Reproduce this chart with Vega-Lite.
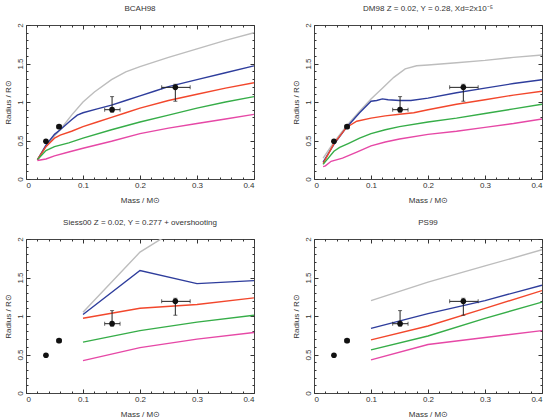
{
  "$schema": "https://vega.github.io/schema/vega-lite/v6.json",
  "padding": {"left": 3, "top": 4, "right": 0, "bottom": 0},
  "bounds": "flush",
  "columns": 2,
  "spacing": 60,
  "config": {
    "font": "Liberation Sans",
    "view": {"stroke": "#444", "strokeWidth": 1},
    "axis": {"domain": false, "grid": false, "labelFontSize": 8, "titleFontSize": 8, "titleFontWeight": "normal", "labelColor": "#333", "titleColor": "#333", "tickColor": "#333", "tickWidth": 1},
    "title": {"fontSize": 8, "fontWeight": "normal", "color": "#333", "offset": 10},
    "line": {"strokeWidth": 1.4}
  },
  "datasets": {
    "models": [
      {"p": "BCAH98", "s": "s1", "m": 0.02, "r": 0.25}, {"p": "BCAH98", "s": "s1", "m": 0.035, "r": 0.42}, {"p": "BCAH98", "s": "s1", "m": 0.05, "r": 0.56}, {"p": "BCAH98", "s": "s1", "m": 0.06, "r": 0.64}, {"p": "BCAH98", "s": "s1", "m": 0.08, "r": 0.83}, {"p": "BCAH98", "s": "s1", "m": 0.1, "r": 1.0}, {"p": "BCAH98", "s": "s1", "m": 0.12, "r": 1.13}, {"p": "BCAH98", "s": "s1", "m": 0.15, "r": 1.29}, {"p": "BCAH98", "s": "s1", "m": 0.175, "r": 1.39}, {"p": "BCAH98", "s": "s1", "m": 0.2, "r": 1.46}, {"p": "BCAH98", "s": "s1", "m": 0.25, "r": 1.58}, {"p": "BCAH98", "s": "s1", "m": 0.3, "r": 1.69}, {"p": "BCAH98", "s": "s1", "m": 0.35, "r": 1.8}, {"p": "BCAH98", "s": "s1", "m": 0.4, "r": 1.9},
      {"p": "BCAH98", "s": "s2", "m": 0.02, "r": 0.25}, {"p": "BCAH98", "s": "s2", "m": 0.035, "r": 0.44}, {"p": "BCAH98", "s": "s2", "m": 0.05, "r": 0.58}, {"p": "BCAH98", "s": "s2", "m": 0.06, "r": 0.64}, {"p": "BCAH98", "s": "s2", "m": 0.08, "r": 0.77}, {"p": "BCAH98", "s": "s2", "m": 0.09, "r": 0.83}, {"p": "BCAH98", "s": "s2", "m": 0.1, "r": 0.86}, {"p": "BCAH98", "s": "s2", "m": 0.125, "r": 0.91}, {"p": "BCAH98", "s": "s2", "m": 0.15, "r": 0.96}, {"p": "BCAH98", "s": "s2", "m": 0.175, "r": 1.02}, {"p": "BCAH98", "s": "s2", "m": 0.2, "r": 1.08}, {"p": "BCAH98", "s": "s2", "m": 0.225, "r": 1.14}, {"p": "BCAH98", "s": "s2", "m": 0.25, "r": 1.2}, {"p": "BCAH98", "s": "s2", "m": 0.3, "r": 1.29}, {"p": "BCAH98", "s": "s2", "m": 0.35, "r": 1.38}, {"p": "BCAH98", "s": "s2", "m": 0.4, "r": 1.47},
      {"p": "BCAH98", "s": "s3", "m": 0.02, "r": 0.25}, {"p": "BCAH98", "s": "s3", "m": 0.035, "r": 0.42}, {"p": "BCAH98", "s": "s3", "m": 0.05, "r": 0.53}, {"p": "BCAH98", "s": "s3", "m": 0.06, "r": 0.57}, {"p": "BCAH98", "s": "s3", "m": 0.08, "r": 0.62}, {"p": "BCAH98", "s": "s3", "m": 0.1, "r": 0.68}, {"p": "BCAH98", "s": "s3", "m": 0.125, "r": 0.74}, {"p": "BCAH98", "s": "s3", "m": 0.15, "r": 0.8}, {"p": "BCAH98", "s": "s3", "m": 0.175, "r": 0.86}, {"p": "BCAH98", "s": "s3", "m": 0.2, "r": 0.92}, {"p": "BCAH98", "s": "s3", "m": 0.25, "r": 1.02}, {"p": "BCAH98", "s": "s3", "m": 0.3, "r": 1.1}, {"p": "BCAH98", "s": "s3", "m": 0.35, "r": 1.18}, {"p": "BCAH98", "s": "s3", "m": 0.4, "r": 1.25},
      {"p": "BCAH98", "s": "s4", "m": 0.02, "r": 0.25}, {"p": "BCAH98", "s": "s4", "m": 0.035, "r": 0.37}, {"p": "BCAH98", "s": "s4", "m": 0.05, "r": 0.42}, {"p": "BCAH98", "s": "s4", "m": 0.075, "r": 0.47}, {"p": "BCAH98", "s": "s4", "m": 0.1, "r": 0.53}, {"p": "BCAH98", "s": "s4", "m": 0.15, "r": 0.64}, {"p": "BCAH98", "s": "s4", "m": 0.2, "r": 0.74}, {"p": "BCAH98", "s": "s4", "m": 0.25, "r": 0.83}, {"p": "BCAH98", "s": "s4", "m": 0.3, "r": 0.92}, {"p": "BCAH98", "s": "s4", "m": 0.35, "r": 1.0}, {"p": "BCAH98", "s": "s4", "m": 0.4, "r": 1.07},
      {"p": "BCAH98", "s": "s5", "m": 0.02, "r": 0.24}, {"p": "BCAH98", "s": "s5", "m": 0.035, "r": 0.26}, {"p": "BCAH98", "s": "s5", "m": 0.05, "r": 0.3}, {"p": "BCAH98", "s": "s5", "m": 0.075, "r": 0.35}, {"p": "BCAH98", "s": "s5", "m": 0.1, "r": 0.4}, {"p": "BCAH98", "s": "s5", "m": 0.15, "r": 0.49}, {"p": "BCAH98", "s": "s5", "m": 0.2, "r": 0.59}, {"p": "BCAH98", "s": "s5", "m": 0.25, "r": 0.66}, {"p": "BCAH98", "s": "s5", "m": 0.3, "r": 0.72}, {"p": "BCAH98", "s": "s5", "m": 0.35, "r": 0.78}, {"p": "BCAH98", "s": "s5", "m": 0.4, "r": 0.84},

      {"p": "DM98", "s": "s1", "m": 0.016, "r": 0.27}, {"p": "DM98", "s": "s1", "m": 0.035, "r": 0.48}, {"p": "DM98", "s": "s1", "m": 0.057, "r": 0.69}, {"p": "DM98", "s": "s1", "m": 0.08, "r": 0.88}, {"p": "DM98", "s": "s1", "m": 0.1, "r": 1.04}, {"p": "DM98", "s": "s1", "m": 0.12, "r": 1.18}, {"p": "DM98", "s": "s1", "m": 0.14, "r": 1.32}, {"p": "DM98", "s": "s1", "m": 0.16, "r": 1.43}, {"p": "DM98", "s": "s1", "m": 0.18, "r": 1.47}, {"p": "DM98", "s": "s1", "m": 0.2, "r": 1.48}, {"p": "DM98", "s": "s1", "m": 0.25, "r": 1.51}, {"p": "DM98", "s": "s1", "m": 0.3, "r": 1.54}, {"p": "DM98", "s": "s1", "m": 0.35, "r": 1.58}, {"p": "DM98", "s": "s1", "m": 0.4, "r": 1.61},
      {"p": "DM98", "s": "s2", "m": 0.016, "r": 0.22}, {"p": "DM98", "s": "s2", "m": 0.035, "r": 0.45}, {"p": "DM98", "s": "s2", "m": 0.057, "r": 0.67}, {"p": "DM98", "s": "s2", "m": 0.08, "r": 0.86}, {"p": "DM98", "s": "s2", "m": 0.1, "r": 1.01}, {"p": "DM98", "s": "s2", "m": 0.11, "r": 1.02}, {"p": "DM98", "s": "s2", "m": 0.12, "r": 1.04}, {"p": "DM98", "s": "s2", "m": 0.13, "r": 1.03}, {"p": "DM98", "s": "s2", "m": 0.15, "r": 1.02}, {"p": "DM98", "s": "s2", "m": 0.17, "r": 1.02}, {"p": "DM98", "s": "s2", "m": 0.2, "r": 1.05}, {"p": "DM98", "s": "s2", "m": 0.25, "r": 1.12}, {"p": "DM98", "s": "s2", "m": 0.3, "r": 1.18}, {"p": "DM98", "s": "s2", "m": 0.35, "r": 1.24}, {"p": "DM98", "s": "s2", "m": 0.4, "r": 1.29},
      {"p": "DM98", "s": "s3", "m": 0.016, "r": 0.2}, {"p": "DM98", "s": "s3", "m": 0.035, "r": 0.46}, {"p": "DM98", "s": "s3", "m": 0.057, "r": 0.67}, {"p": "DM98", "s": "s3", "m": 0.075, "r": 0.75}, {"p": "DM98", "s": "s3", "m": 0.1, "r": 0.79}, {"p": "DM98", "s": "s3", "m": 0.125, "r": 0.82}, {"p": "DM98", "s": "s3", "m": 0.15, "r": 0.84}, {"p": "DM98", "s": "s3", "m": 0.175, "r": 0.86}, {"p": "DM98", "s": "s3", "m": 0.2, "r": 0.9}, {"p": "DM98", "s": "s3", "m": 0.25, "r": 0.97}, {"p": "DM98", "s": "s3", "m": 0.3, "r": 1.03}, {"p": "DM98", "s": "s3", "m": 0.35, "r": 1.09}, {"p": "DM98", "s": "s3", "m": 0.4, "r": 1.14},
      {"p": "DM98", "s": "s4", "m": 0.016, "r": 0.19}, {"p": "DM98", "s": "s4", "m": 0.035, "r": 0.36}, {"p": "DM98", "s": "s4", "m": 0.045, "r": 0.41}, {"p": "DM98", "s": "s4", "m": 0.06, "r": 0.46}, {"p": "DM98", "s": "s4", "m": 0.08, "r": 0.53}, {"p": "DM98", "s": "s4", "m": 0.1, "r": 0.59}, {"p": "DM98", "s": "s4", "m": 0.125, "r": 0.64}, {"p": "DM98", "s": "s4", "m": 0.15, "r": 0.68}, {"p": "DM98", "s": "s4", "m": 0.2, "r": 0.74}, {"p": "DM98", "s": "s4", "m": 0.25, "r": 0.79}, {"p": "DM98", "s": "s4", "m": 0.3, "r": 0.85}, {"p": "DM98", "s": "s4", "m": 0.35, "r": 0.91}, {"p": "DM98", "s": "s4", "m": 0.4, "r": 0.97},
      {"p": "DM98", "s": "s5", "m": 0.016, "r": 0.16}, {"p": "DM98", "s": "s5", "m": 0.02, "r": 0.17}, {"p": "DM98", "s": "s5", "m": 0.03, "r": 0.23}, {"p": "DM98", "s": "s5", "m": 0.05, "r": 0.27}, {"p": "DM98", "s": "s5", "m": 0.075, "r": 0.35}, {"p": "DM98", "s": "s5", "m": 0.1, "r": 0.43}, {"p": "DM98", "s": "s5", "m": 0.125, "r": 0.48}, {"p": "DM98", "s": "s5", "m": 0.15, "r": 0.52}, {"p": "DM98", "s": "s5", "m": 0.2, "r": 0.58}, {"p": "DM98", "s": "s5", "m": 0.25, "r": 0.62}, {"p": "DM98", "s": "s5", "m": 0.3, "r": 0.67}, {"p": "DM98", "s": "s5", "m": 0.35, "r": 0.72}, {"p": "DM98", "s": "s5", "m": 0.4, "r": 0.78},

      {"p": "Siess00", "s": "s1", "m": 0.1, "r": 1.05}, {"p": "Siess00", "s": "s1", "m": 0.2, "r": 1.83}, {"p": "Siess00", "s": "s1", "m": 0.3, "r": 2.29}, {"p": "Siess00", "s": "s1", "m": 0.4, "r": 2.6},
      {"p": "Siess00", "s": "s2", "m": 0.1, "r": 1.02}, {"p": "Siess00", "s": "s2", "m": 0.2, "r": 1.59}, {"p": "Siess00", "s": "s2", "m": 0.3, "r": 1.42}, {"p": "Siess00", "s": "s2", "m": 0.4, "r": 1.46},
      {"p": "Siess00", "s": "s3", "m": 0.1, "r": 0.97}, {"p": "Siess00", "s": "s3", "m": 0.2, "r": 1.1}, {"p": "Siess00", "s": "s3", "m": 0.3, "r": 1.15}, {"p": "Siess00", "s": "s3", "m": 0.4, "r": 1.235},
      {"p": "Siess00", "s": "s4", "m": 0.1, "r": 0.66}, {"p": "Siess00", "s": "s4", "m": 0.2, "r": 0.81}, {"p": "Siess00", "s": "s4", "m": 0.3, "r": 0.92}, {"p": "Siess00", "s": "s4", "m": 0.4, "r": 1.01},
      {"p": "Siess00", "s": "s5", "m": 0.1, "r": 0.42}, {"p": "Siess00", "s": "s5", "m": 0.2, "r": 0.59}, {"p": "Siess00", "s": "s5", "m": 0.3, "r": 0.7}, {"p": "Siess00", "s": "s5", "m": 0.4, "r": 0.785},

      {"p": "PS99", "s": "s1", "m": 0.1, "r": 1.2}, {"p": "PS99", "s": "s1", "m": 0.2, "r": 1.44}, {"p": "PS99", "s": "s1", "m": 0.3, "r": 1.65}, {"p": "PS99", "s": "s1", "m": 0.4, "r": 1.86},
      {"p": "PS99", "s": "s2", "m": 0.1, "r": 0.84}, {"p": "PS99", "s": "s2", "m": 0.2, "r": 1.03}, {"p": "PS99", "s": "s2", "m": 0.3, "r": 1.2}, {"p": "PS99", "s": "s2", "m": 0.4, "r": 1.4},
      {"p": "PS99", "s": "s3", "m": 0.1, "r": 0.69}, {"p": "PS99", "s": "s3", "m": 0.2, "r": 0.87}, {"p": "PS99", "s": "s3", "m": 0.3, "r": 1.1}, {"p": "PS99", "s": "s3", "m": 0.4, "r": 1.33},
      {"p": "PS99", "s": "s4", "m": 0.1, "r": 0.56}, {"p": "PS99", "s": "s4", "m": 0.2, "r": 0.74}, {"p": "PS99", "s": "s4", "m": 0.3, "r": 0.97}, {"p": "PS99", "s": "s4", "m": 0.4, "r": 1.18},
      {"p": "PS99", "s": "s5", "m": 0.1, "r": 0.43}, {"p": "PS99", "s": "s5", "m": 0.2, "r": 0.63}, {"p": "PS99", "s": "s5", "m": 0.3, "r": 0.72}, {"p": "PS99", "s": "s5", "m": 0.4, "r": 0.81}
    ],
    "obs": [
      {"x": 0.035, "y": 0.49, "xlo": 0.035, "xhi": 0.035, "ylo": 0.49, "yhi": 0.49},
      {"x": 0.058, "y": 0.68, "xlo": 0.054, "xhi": 0.062, "ylo": 0.675, "yhi": 0.685},
      {"x": 0.151, "y": 0.9, "xlo": 0.138, "xhi": 0.165, "ylo": 0.87, "yhi": 1.07},
      {"x": 0.262, "y": 1.19, "xlo": 0.238, "xhi": 0.288, "ylo": 1.01, "yhi": 1.23}
    ]
  },
  "concat": [
    {
      "title": "BCAH98",
      "width": 228, "height": 154,
      "resolve": {"axis": {"x": "independent", "y": "independent"}},
      "layer": [
        {"data": {"name": "models"}, "transform": [{"filter": "datum.p === 'BCAH98'"}], "mark": {"type": "line", "clip": true},
         "encoding": {
           "x": {"field": "m", "type": "quantitative", "scale": {"domain": [0, 0.4], "nice": false}, "axis": {"orient": "bottom", "values": [0, 0.1, 0.2, 0.3, 0.4], "format": "~g", "tickSize": -4, "labelPadding": 6, "title": "Mass / M⊙", "titlePadding": 7}},
           "y": {"field": "r", "type": "quantitative", "scale": {"domain": [0, 2], "nice": false}, "axis": {"orient": "left", "values": [0, 0.5, 1, 1.5, 2], "format": "~g", "tickSize": -4, "labelAngle": -90, "labelPadding": 6, "title": "Radius / R⊙", "titlePadding": 4}},
           "color": {"field": "s", "type": "nominal", "scale": {"domain": ["s1", "s2", "s3", "s4", "s5"], "range": ["#bdbdbd", "#2e3d9c", "#f2472c", "#36ad48", "#e648a6"]}, "legend": null}}},
        {"data": {"name": "obs"}, "mark": {"type": "rule", "color": "#222", "strokeWidth": 1},
         "encoding": {
           "x": {"field": "xlo", "type": "quantitative", "axis": {"orient": "top", "values": [0, 0.1, 0.2, 0.3, 0.4], "labels": false, "tickSize": -4, "title": null}},
           "x2": {"field": "xhi"},
           "y": {"field": "y", "type": "quantitative", "axis": {"orient": "right", "values": [0, 0.5, 1, 1.5, 2], "labels": false, "tickSize": -4, "title": null}}}},
        {"data": {"name": "obs"}, "mark": {"type": "rule", "color": "#222", "strokeWidth": 1},
         "encoding": {
           "x": {"field": "x", "type": "quantitative", "axis": {"orient": "bottom", "values": [0.02, 0.04, 0.06, 0.08, 0.12, 0.14, 0.16, 0.18, 0.22, 0.24, 0.26, 0.28, 0.32, 0.34, 0.36, 0.38], "labels": false, "tickSize": -2, "title": null}},
           "y": {"field": "ylo", "type": "quantitative", "axis": {"orient": "left", "values": [0.1, 0.2, 0.3, 0.4, 0.6, 0.7, 0.8, 0.9, 1.1, 1.2, 1.3, 1.4, 1.6, 1.7, 1.8, 1.9], "labels": false, "tickSize": -2, "title": null}},
           "y2": {"field": "yhi"}}},
        {"data": {"name": "obs"}, "transform": [{"fold": ["xlo", "xhi"], "as": ["k", "v"]}], "mark": {"type": "tick", "orient": "vertical", "size": 4, "thickness": 1, "color": "#222"},
         "encoding": {"x": {"field": "v", "type": "quantitative", "axis": null}, "y": {"field": "y", "type": "quantitative", "axis": null}}},
        {"data": {"name": "obs"}, "transform": [{"fold": ["ylo", "yhi"], "as": ["k", "v"]}], "mark": {"type": "tick", "orient": "horizontal", "size": 4, "thickness": 1, "color": "#222"},
         "encoding": {"x": {"field": "x", "type": "quantitative", "axis": null}, "y": {"field": "v", "type": "quantitative", "axis": null}}},
        {"data": {"name": "obs"}, "mark": {"type": "circle", "size": 32, "color": "#111", "opacity": 1},
         "encoding": {
           "x": {"field": "x", "type": "quantitative", "axis": {"orient": "top", "values": [0.02, 0.04, 0.06, 0.08, 0.12, 0.14, 0.16, 0.18, 0.22, 0.24, 0.26, 0.28, 0.32, 0.34, 0.36, 0.38], "labels": false, "tickSize": -2, "title": null}},
           "y": {"field": "y", "type": "quantitative", "axis": {"orient": "right", "values": [0.1, 0.2, 0.3, 0.4, 0.6, 0.7, 0.8, 0.9, 1.1, 1.2, 1.3, 1.4, 1.6, 1.7, 1.8, 1.9], "labels": false, "tickSize": -2, "title": null}}}}
      ]
    },
    {
      "title": "DM98 Z = 0.02, Y = 0.28, Xd=2x10⁻⁵",
      "width": 228, "height": 154,
      "resolve": {"axis": {"x": "independent", "y": "independent"}},
      "layer": [
        {"data": {"name": "models"}, "transform": [{"filter": "datum.p === 'DM98'"}], "mark": {"type": "line", "clip": true},
         "encoding": {
           "x": {"field": "m", "type": "quantitative", "scale": {"domain": [0, 0.4], "nice": false}, "axis": {"orient": "bottom", "values": [0, 0.1, 0.2, 0.3, 0.4], "format": "~g", "tickSize": -4, "labelPadding": 6, "title": "Mass / M⊙", "titlePadding": 7}},
           "y": {"field": "r", "type": "quantitative", "scale": {"domain": [0, 2], "nice": false}, "axis": {"orient": "left", "values": [0, 0.5, 1, 1.5, 2], "format": "~g", "tickSize": -4, "labelAngle": -90, "labelPadding": 6, "title": "Radius / R⊙", "titlePadding": 4}},
           "color": {"field": "s", "type": "nominal", "scale": {"domain": ["s1", "s2", "s3", "s4", "s5"], "range": ["#bdbdbd", "#2e3d9c", "#f2472c", "#36ad48", "#e648a6"]}, "legend": null}}},
        {"data": {"name": "obs"}, "mark": {"type": "rule", "color": "#222", "strokeWidth": 1},
         "encoding": {
           "x": {"field": "xlo", "type": "quantitative", "axis": {"orient": "top", "values": [0, 0.1, 0.2, 0.3, 0.4], "labels": false, "tickSize": -4, "title": null}},
           "x2": {"field": "xhi"},
           "y": {"field": "y", "type": "quantitative", "axis": {"orient": "right", "values": [0, 0.5, 1, 1.5, 2], "labels": false, "tickSize": -4, "title": null}}}},
        {"data": {"name": "obs"}, "mark": {"type": "rule", "color": "#222", "strokeWidth": 1},
         "encoding": {
           "x": {"field": "x", "type": "quantitative", "axis": {"orient": "bottom", "values": [0.02, 0.04, 0.06, 0.08, 0.12, 0.14, 0.16, 0.18, 0.22, 0.24, 0.26, 0.28, 0.32, 0.34, 0.36, 0.38], "labels": false, "tickSize": -2, "title": null}},
           "y": {"field": "ylo", "type": "quantitative", "axis": {"orient": "left", "values": [0.1, 0.2, 0.3, 0.4, 0.6, 0.7, 0.8, 0.9, 1.1, 1.2, 1.3, 1.4, 1.6, 1.7, 1.8, 1.9], "labels": false, "tickSize": -2, "title": null}},
           "y2": {"field": "yhi"}}},
        {"data": {"name": "obs"}, "transform": [{"fold": ["xlo", "xhi"], "as": ["k", "v"]}], "mark": {"type": "tick", "orient": "vertical", "size": 4, "thickness": 1, "color": "#222"},
         "encoding": {"x": {"field": "v", "type": "quantitative", "axis": null}, "y": {"field": "y", "type": "quantitative", "axis": null}}},
        {"data": {"name": "obs"}, "transform": [{"fold": ["ylo", "yhi"], "as": ["k", "v"]}], "mark": {"type": "tick", "orient": "horizontal", "size": 4, "thickness": 1, "color": "#222"},
         "encoding": {"x": {"field": "x", "type": "quantitative", "axis": null}, "y": {"field": "v", "type": "quantitative", "axis": null}}},
        {"data": {"name": "obs"}, "mark": {"type": "circle", "size": 32, "color": "#111", "opacity": 1},
         "encoding": {
           "x": {"field": "x", "type": "quantitative", "axis": {"orient": "top", "values": [0.02, 0.04, 0.06, 0.08, 0.12, 0.14, 0.16, 0.18, 0.22, 0.24, 0.26, 0.28, 0.32, 0.34, 0.36, 0.38], "labels": false, "tickSize": -2, "title": null}},
           "y": {"field": "y", "type": "quantitative", "axis": {"orient": "right", "values": [0.1, 0.2, 0.3, 0.4, 0.6, 0.7, 0.8, 0.9, 1.1, 1.2, 1.3, 1.4, 1.6, 1.7, 1.8, 1.9], "labels": false, "tickSize": -2, "title": null}}}}
      ]
    },
    {
      "title": "Siess00 Z = 0.02, Y = 0.277 + overshooting",
      "width": 228, "height": 154,
      "resolve": {"axis": {"x": "independent", "y": "independent"}},
      "layer": [
        {"data": {"name": "models"}, "transform": [{"filter": "datum.p === 'Siess00'"}], "mark": {"type": "line", "clip": true},
         "encoding": {
           "x": {"field": "m", "type": "quantitative", "scale": {"domain": [0, 0.4], "nice": false}, "axis": {"orient": "bottom", "values": [0, 0.1, 0.2, 0.3, 0.4], "format": "~g", "tickSize": -4, "labelPadding": 6, "title": "Mass / M⊙", "titlePadding": 7}},
           "y": {"field": "r", "type": "quantitative", "scale": {"domain": [0, 2], "nice": false}, "axis": {"orient": "left", "values": [0, 0.5, 1, 1.5, 2], "format": "~g", "tickSize": -4, "labelAngle": -90, "labelPadding": 6, "title": "Radius / R⊙", "titlePadding": 4}},
           "color": {"field": "s", "type": "nominal", "scale": {"domain": ["s1", "s2", "s3", "s4", "s5"], "range": ["#bdbdbd", "#2e3d9c", "#f2472c", "#36ad48", "#e648a6"]}, "legend": null}}},
        {"data": {"name": "obs"}, "mark": {"type": "rule", "color": "#222", "strokeWidth": 1},
         "encoding": {
           "x": {"field": "xlo", "type": "quantitative", "axis": {"orient": "top", "values": [0, 0.1, 0.2, 0.3, 0.4], "labels": false, "tickSize": -4, "title": null}},
           "x2": {"field": "xhi"},
           "y": {"field": "y", "type": "quantitative", "axis": {"orient": "right", "values": [0, 0.5, 1, 1.5, 2], "labels": false, "tickSize": -4, "title": null}}}},
        {"data": {"name": "obs"}, "mark": {"type": "rule", "color": "#222", "strokeWidth": 1},
         "encoding": {
           "x": {"field": "x", "type": "quantitative", "axis": {"orient": "bottom", "values": [0.02, 0.04, 0.06, 0.08, 0.12, 0.14, 0.16, 0.18, 0.22, 0.24, 0.26, 0.28, 0.32, 0.34, 0.36, 0.38], "labels": false, "tickSize": -2, "title": null}},
           "y": {"field": "ylo", "type": "quantitative", "axis": {"orient": "left", "values": [0.1, 0.2, 0.3, 0.4, 0.6, 0.7, 0.8, 0.9, 1.1, 1.2, 1.3, 1.4, 1.6, 1.7, 1.8, 1.9], "labels": false, "tickSize": -2, "title": null}},
           "y2": {"field": "yhi"}}},
        {"data": {"name": "obs"}, "transform": [{"fold": ["xlo", "xhi"], "as": ["k", "v"]}], "mark": {"type": "tick", "orient": "vertical", "size": 4, "thickness": 1, "color": "#222"},
         "encoding": {"x": {"field": "v", "type": "quantitative", "axis": null}, "y": {"field": "y", "type": "quantitative", "axis": null}}},
        {"data": {"name": "obs"}, "transform": [{"fold": ["ylo", "yhi"], "as": ["k", "v"]}], "mark": {"type": "tick", "orient": "horizontal", "size": 4, "thickness": 1, "color": "#222"},
         "encoding": {"x": {"field": "x", "type": "quantitative", "axis": null}, "y": {"field": "v", "type": "quantitative", "axis": null}}},
        {"data": {"name": "obs"}, "mark": {"type": "circle", "size": 32, "color": "#111", "opacity": 1},
         "encoding": {
           "x": {"field": "x", "type": "quantitative", "axis": {"orient": "top", "values": [0.02, 0.04, 0.06, 0.08, 0.12, 0.14, 0.16, 0.18, 0.22, 0.24, 0.26, 0.28, 0.32, 0.34, 0.36, 0.38], "labels": false, "tickSize": -2, "title": null}},
           "y": {"field": "y", "type": "quantitative", "axis": {"orient": "right", "values": [0.1, 0.2, 0.3, 0.4, 0.6, 0.7, 0.8, 0.9, 1.1, 1.2, 1.3, 1.4, 1.6, 1.7, 1.8, 1.9], "labels": false, "tickSize": -2, "title": null}}}}
      ]
    },
    {
      "title": "PS99",
      "width": 228, "height": 154,
      "resolve": {"axis": {"x": "independent", "y": "independent"}},
      "layer": [
        {"data": {"name": "models"}, "transform": [{"filter": "datum.p === 'PS99'"}], "mark": {"type": "line", "clip": true},
         "encoding": {
           "x": {"field": "m", "type": "quantitative", "scale": {"domain": [0, 0.4], "nice": false}, "axis": {"orient": "bottom", "values": [0, 0.1, 0.2, 0.3, 0.4], "format": "~g", "tickSize": -4, "labelPadding": 6, "title": "Mass / M⊙", "titlePadding": 7}},
           "y": {"field": "r", "type": "quantitative", "scale": {"domain": [0, 2], "nice": false}, "axis": {"orient": "left", "values": [0, 0.5, 1, 1.5, 2], "format": "~g", "tickSize": -4, "labelAngle": -90, "labelPadding": 6, "title": "Radius / R⊙", "titlePadding": 4}},
           "color": {"field": "s", "type": "nominal", "scale": {"domain": ["s1", "s2", "s3", "s4", "s5"], "range": ["#bdbdbd", "#2e3d9c", "#f2472c", "#36ad48", "#e648a6"]}, "legend": null}}},
        {"data": {"name": "obs"}, "mark": {"type": "rule", "color": "#222", "strokeWidth": 1},
         "encoding": {
           "x": {"field": "xlo", "type": "quantitative", "axis": {"orient": "top", "values": [0, 0.1, 0.2, 0.3, 0.4], "labels": false, "tickSize": -4, "title": null}},
           "x2": {"field": "xhi"},
           "y": {"field": "y", "type": "quantitative", "axis": {"orient": "right", "values": [0, 0.5, 1, 1.5, 2], "labels": false, "tickSize": -4, "title": null}}}},
        {"data": {"name": "obs"}, "mark": {"type": "rule", "color": "#222", "strokeWidth": 1},
         "encoding": {
           "x": {"field": "x", "type": "quantitative", "axis": {"orient": "bottom", "values": [0.02, 0.04, 0.06, 0.08, 0.12, 0.14, 0.16, 0.18, 0.22, 0.24, 0.26, 0.28, 0.32, 0.34, 0.36, 0.38], "labels": false, "tickSize": -2, "title": null}},
           "y": {"field": "ylo", "type": "quantitative", "axis": {"orient": "left", "values": [0.1, 0.2, 0.3, 0.4, 0.6, 0.7, 0.8, 0.9, 1.1, 1.2, 1.3, 1.4, 1.6, 1.7, 1.8, 1.9], "labels": false, "tickSize": -2, "title": null}},
           "y2": {"field": "yhi"}}},
        {"data": {"name": "obs"}, "transform": [{"fold": ["xlo", "xhi"], "as": ["k", "v"]}], "mark": {"type": "tick", "orient": "vertical", "size": 4, "thickness": 1, "color": "#222"},
         "encoding": {"x": {"field": "v", "type": "quantitative", "axis": null}, "y": {"field": "y", "type": "quantitative", "axis": null}}},
        {"data": {"name": "obs"}, "transform": [{"fold": ["ylo", "yhi"], "as": ["k", "v"]}], "mark": {"type": "tick", "orient": "horizontal", "size": 4, "thickness": 1, "color": "#222"},
         "encoding": {"x": {"field": "x", "type": "quantitative", "axis": null}, "y": {"field": "v", "type": "quantitative", "axis": null}}},
        {"data": {"name": "obs"}, "mark": {"type": "circle", "size": 32, "color": "#111", "opacity": 1},
         "encoding": {
           "x": {"field": "x", "type": "quantitative", "axis": {"orient": "top", "values": [0.02, 0.04, 0.06, 0.08, 0.12, 0.14, 0.16, 0.18, 0.22, 0.24, 0.26, 0.28, 0.32, 0.34, 0.36, 0.38], "labels": false, "tickSize": -2, "title": null}},
           "y": {"field": "y", "type": "quantitative", "axis": {"orient": "right", "values": [0.1, 0.2, 0.3, 0.4, 0.6, 0.7, 0.8, 0.9, 1.1, 1.2, 1.3, 1.4, 1.6, 1.7, 1.8, 1.9], "labels": false, "tickSize": -2, "title": null}}}}
      ]
    }
  ]
}
